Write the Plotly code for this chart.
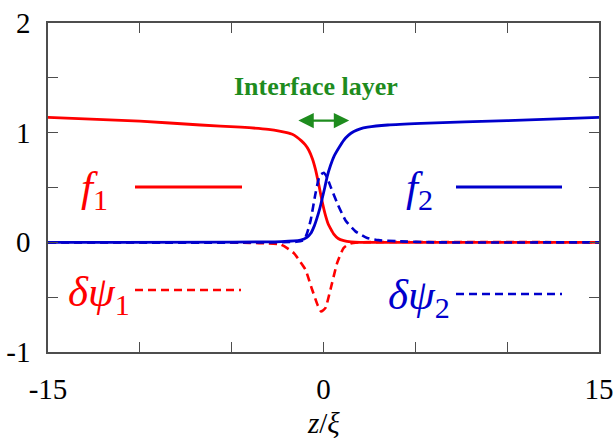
import plotly.graph_objects as go

# ---- data ----
f1_z = [-15, -10, -6.7, -4.5, -3, -2.4, -2, -1.7, -1.45, -1.2, -1.0, -0.8, -0.6, -0.43, -0.25, -0.07, 0.1, 0.25, 0.4, 0.56, 0.8, 1.1, 1.5, 2, 15]
f1_v = [1.14, 1.105, 1.07, 1.05, 1.03, 1.015, 1.0, 0.985, 0.96, 0.925, 0.89, 0.84, 0.76, 0.66, 0.52, 0.37, 0.25, 0.17, 0.12, 0.075, 0.035, 0.016, 0.005, 0, 0]

f2_z = [-15, -2.3, -1.25, -0.9, -0.7, -0.5, -0.34, -0.2, -0.07, 0.07, 0.2, 0.38, 0.56, 0.83, 1.1, 1.35, 1.65, 2.0, 2.4, 3.5, 5.3, 10, 15]
f2_v = [0, 0.007, 0.02, 0.045, 0.08, 0.15, 0.23, 0.31, 0.4, 0.5, 0.6, 0.7, 0.78, 0.86, 0.93, 0.975, 1.01, 1.035, 1.05, 1.07, 1.085, 1.11, 1.14]

dpsi1_z = [-15, -6, -4, -3, -2.34, -2.0, -1.6, -1.3, -0.98, -0.62, -0.3, -0.13, 0.1, 0.38, 0.74, 1.1, 1.47, 2, 15]
dpsi1_v = [0, 0, -0.005, -0.01, -0.02, -0.05, -0.1, -0.17, -0.25, -0.43, -0.58, -0.63, -0.6, -0.43, -0.19, -0.05, -0.01, 0, 0]

dpsi2_z = [-15, -1.5, -1.07, -0.9, -0.7, -0.43, -0.2, 0.02, 0.2, 0.38, 0.74, 1.2, 1.74, 2.38, 3, 4, 6, 15]
dpsi2_v = [0, 0.005, 0.02, 0.08, 0.2, 0.45, 0.61, 0.635, 0.59, 0.51, 0.36, 0.2, 0.1, 0.04, 0.02, 0.01, 0, 0]

x_ticks = [-15, -10, -5, 0, 5, 10, 15]
x_ticktext = ["-15", "", "", "0", "", "", "15"]
y_ticks = [-1, -0.5, 0, 0.5, 1, 1.5, 2]
y_ticktext = ["-1", "", "0", "", "1", "", "2"]

RED = "#FF0000"
BLUE = "#0000CC"
GREEN = "#1E8C1E"
FONT = "Liberation Serif"

fig = go.Figure()
fig.add_trace(go.Scatter(x=dpsi1_z, y=dpsi1_v, mode="lines",
                         line=dict(color=RED, width=2.6, dash="8px,5px", shape="spline", smoothing=0.5)))
fig.add_trace(go.Scatter(x=f1_z, y=f1_v, mode="lines",
                         line=dict(color=RED, width=2.8, shape="spline", smoothing=0.5)))
fig.add_trace(go.Scatter(x=f2_z, y=f2_v, mode="lines",
                         line=dict(color=BLUE, width=2.8, shape="spline", smoothing=0.5)))
fig.add_trace(go.Scatter(x=dpsi2_z, y=dpsi2_v, mode="lines",
                         line=dict(color=BLUE, width=2.6, dash="8px,5px", shape="spline", smoothing=0.5)))

L, R, T, B = 48, 15, 23, 87
W, H = 614, 439
pw, ph = W - L - R, H - T - B

def px(x):
    return (x - L) / pw

def py(y):
    return (H - B - y) / ph

shapes = [
    dict(type="line", xref="paper", yref="paper", x0=px(135), x1=px(242), y0=py(187), y1=py(187),
         line=dict(color=RED, width=2.8)),
    dict(type="line", xref="paper", yref="paper", x0=px(135), x1=px(241), y0=py(290), y1=py(290),
         line=dict(color=RED, width=2.6, dash="8px,5px")),
    dict(type="line", xref="paper", yref="paper", x0=px(456), x1=px(562), y0=py(187), y1=py(187),
         line=dict(color=BLUE, width=2.8)),
    dict(type="line", xref="paper", yref="paper", x0=px(456), x1=px(562), y0=py(294), y1=py(294),
         line=dict(color=BLUE, width=2.6, dash="8px,5px")),
]

annots = [
    dict(text="<i>f</i><sub>1</sub>", x=px(110), y=py(190), xref="paper", yref="paper",
         xanchor="right", yanchor="middle", showarrow=False, font=dict(family=FONT, size=43, color=RED)),
    dict(text="<i>δψ</i><sub>1</sub>", x=px(132), y=py(295), xref="paper", yref="paper",
         xanchor="right", yanchor="middle", showarrow=False, font=dict(family=FONT, size=43, color=RED)),
    dict(text="<i>f</i><sub>2</sub>", x=px(435), y=py(190), xref="paper", yref="paper",
         xanchor="right", yanchor="middle", showarrow=False, font=dict(family=FONT, size=43, color=BLUE)),
    dict(text="<i>δψ</i><sub>2</sub>", x=px(452), y=py(298), xref="paper", yref="paper",
         xanchor="right", yanchor="middle", showarrow=False, font=dict(family=FONT, size=43, color=BLUE)),
    dict(text="<b>Interface layer</b>", x=px(316), y=py(86), xref="paper", yref="paper",
         xanchor="center", yanchor="middle", showarrow=False, font=dict(family=FONT, size=26, color=GREEN)),
    dict(text="", x=1.4, y=1.11, ax=-1.45, ay=1.11, xref="x", yref="y", axref="x", ayref="y",
         showarrow=True, arrowhead=2, startarrowhead=2, arrowside="end+start",
         arrowsize=1.4, startarrowsize=1.4, arrowwidth=2.2, arrowcolor=GREEN),
    # x-axis title
    dict(text="<i>z</i>/<i>ξ</i>", x=0, y=py(423), xref="x", yref="paper",
         xanchor="center", yanchor="middle", showarrow=False, font=dict(family=FONT, size=29, color="black")),
]

axis_common = dict(showgrid=False, zeroline=False, showline=True, linecolor="#4d4d4d", linewidth=1.5,
                   mirror="ticks", ticks="inside", ticklen=10, tickwidth=1.3, tickcolor="#4d4d4d",
                   automargin=False,
                   tickfont=dict(family=FONT, size=29, color="black"))

fig.update_layout(
    width=W, height=H,
    margin=dict(l=L, r=R, t=T, b=B, autoexpand=False),
    paper_bgcolor="white", plot_bgcolor="white",
    showlegend=False,
    font=dict(family=FONT),
    shapes=shapes, annotations=annots,
    xaxis=dict(range=[-15, 15], tickmode="array", tickvals=x_ticks, ticktext=x_ticktext,
               ticklabelstandoff=10, **axis_common),
    yaxis=dict(range=[-1, 2], tickmode="array", tickvals=y_ticks, ticktext=y_ticktext,
               ticklabelstandoff=10, **axis_common),
)

fig.write_html("out.html", config={"displayModeBar": False},
               post_script="document.body.style.margin='0px';document.body.style.overflow='hidden';")
